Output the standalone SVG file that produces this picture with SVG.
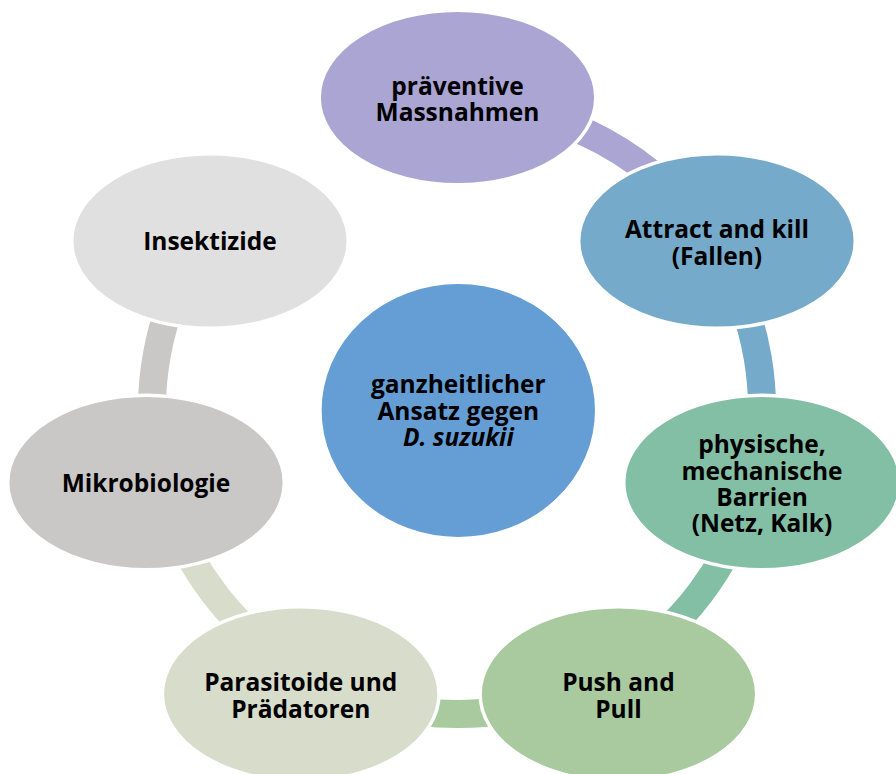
<svg xmlns="http://www.w3.org/2000/svg" width="896" height="774" viewBox="0 0 896 774">
<style>
.n{stroke:#FFFFFF;stroke-width:3.5}
.c{fill:none;stroke-width:28;stroke-linecap:butt}
text{font-family:"Open Sans","Noto Sans","Liberation Sans",sans-serif;font-weight:700;font-size:24.5px;fill:#000000;text-anchor:middle}
</style>
<rect width="896" height="774" fill="#FFFFFF"/>
<g id="connectors">
<path class="c" stroke="#ABA5D3" d="M457,104 A305,305 0 0 1 713.1,243.3"/>
<path class="c" stroke="#75AACA" d="M713.1,243.3 A305,305 0 0 1 753.6,480.2"/>
<path class="c" stroke="#83BFA4" d="M753.6,480.2 A305,305 0 0 1 607.2,674.5"/>
<path class="c" stroke="#A8CA9E" d="M607.2,674.5 A305,305 0 0 1 310.5,676.5"/>
<path class="c" stroke="#D8DCCB" d="M310.5,676.5 A305,305 0 0 1 160.2,479.2"/>
<path class="c" stroke="#C9C8C7" d="M160.2,479.2 A305,305 0 0 1 204.7,237.6"/>
</g>
<g id="center">
<ellipse class="n" cx="458.3" cy="410.5" rx="138.4" ry="128.2" fill="#659DD5"/>
<text x="458.3" y="393">ganzheitlicher</text>
<text x="458.3" y="420">Ansatz gegen</text>
<text x="458.3" y="446" font-style="italic">D. suzukii</text>
</g>
<g id="node1">
<ellipse class="n" cx="457.5" cy="97.5" rx="138.3" ry="87.3" fill="#ABA5D3"/>
<text x="457.5" y="94.5">präventive</text>
<text x="457.5" y="121">Massnahmen</text>
</g>
<g id="node2">
<ellipse class="n" cx="717" cy="241" rx="138.3" ry="87.3" fill="#75AACA"/>
<text x="717" y="238">Attract and kill</text>
<text x="717" y="265">(Fallen)</text>
</g>
<g id="node3">
<ellipse class="n" cx="762" cy="482.5" rx="138.3" ry="87.3" fill="#83BFA4"/>
<text x="762" y="453">physische,</text>
<text x="762" y="479.5">mechanische</text>
<text x="762" y="506">Barrien</text>
<text x="762" y="532">(Netz, Kalk)</text>
</g>
<g id="node4">
<ellipse class="n" cx="618.4" cy="694" rx="138.3" ry="87.3" fill="#A8CA9E"/>
<text x="618.4" y="691">Push and</text>
<text x="618.4" y="718">Pull</text>
</g>
<g id="node5">
<ellipse class="n" cx="300.7" cy="694" rx="138.3" ry="87.3" fill="#D8DCCB"/>
<text x="300.7" y="691">Parasitoide und</text>
<text x="300.7" y="718">Prädatoren</text>
</g>
<g id="node6">
<ellipse class="n" cx="146" cy="482.5" rx="138.3" ry="87.3" fill="#C9C8C7"/>
<text x="146" y="491.5">Mikrobiologie</text>
</g>
<g id="node7">
<ellipse class="n" cx="210" cy="241" rx="138.3" ry="87.3" fill="#E0E0E0"/>
<text x="210" y="250">Insektizide</text>
</g>
</svg>
